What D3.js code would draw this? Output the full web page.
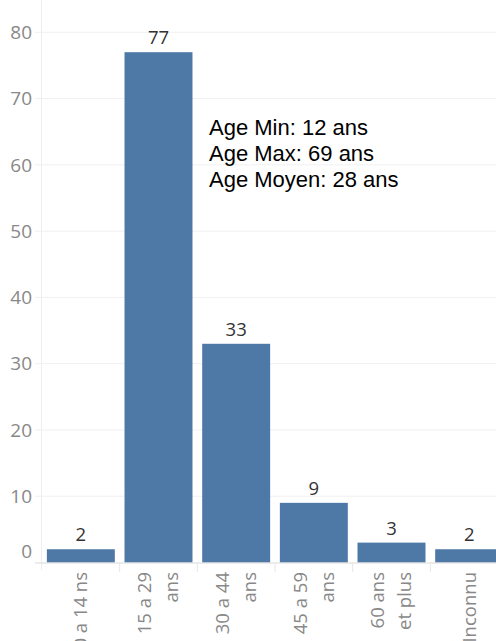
<!DOCTYPE html>
<html>
<head>
<meta charset="utf-8">
<script src="https://cdn.jsdelivr.net/npm/d3@7"></script>
<style>
  body { margin: 0; background: #fff; }
  svg { display: block; }
</style>
</head>
<body>
<svg width="496" height="641"></svg>
<script>
// data
var categories = ["0 a 14 ans", "15 a 29 ans", "30 a 44 ans", "45 a 59 ans", "60 ans et plus", "Inconnu"];
var labelLines = [["0 a 14 ns"], ["15 a 29", "ans"], ["30 a 44", "ans"], ["45 a 59", "ans"], ["60 ans", "et plus"], ["Inconnu"]];
var counts = [2, 77, 33, 9, 3, 2];
var yTicks = [0, 10, 20, 30, 40, 50, 60, 70, 80];
var notes = ["Age Min: 12 ans", "Age Max: 69 ans", "Age Moyen: 28 ans"];

var svg = d3.select("svg"),
    left = 42, right = 508, base = 562.5, top80 = 32.3;

var x = d3.scaleBand().domain(categories).range([left, right])
    .paddingInner(0.125).paddingOuter(0.0625);
var y = d3.scaleLinear().domain([0, 80]).range([base, top80]);

var tickFont = "'Open Sans', Lato, sans-serif";

// gridlines
svg.append("g").selectAll("line")
    .data(yTicks.filter(function (d) { return d > 0; }))
    .enter().append("line")
    .attr("x1", 35).attr("x2", 496)
    .attr("y1", function (d) { return y(d); })
    .attr("y2", function (d) { return y(d); })
    .attr("stroke", "#f0f0f0").attr("stroke-width", 1);

// y axis line
svg.append("line")
    .attr("x1", left - 0.5).attr("x2", left - 0.5)
    .attr("y1", 0).attr("y2", 570)
    .attr("stroke", "#eeeeee");

// y tick labels (0 is nudged up like the original)
svg.append("g").selectAll("text")
    .data(yTicks)
    .enter().append("text")
    .attr("x", 32)
    .attr("y", function (d) { return d === 0 ? y(d) - 11 : y(d); })
    .attr("dy", "0.35em")
    .attr("text-anchor", "end")
    .attr("font-family", tickFont)
    .attr("font-size", 19)
    .attr("fill", "#888")
    .text(function (d) { return d; });

// bars
svg.append("g").selectAll("rect")
    .data(counts)
    .enter().append("rect")
    .attr("x", function (d, i) { return x(categories[i]); })
    .attr("y", function (d) { return y(d); })
    .attr("width", x.bandwidth())
    .attr("height", function (d) { return base - y(d); })
    .attr("fill", "#4e79a7");

// baseline
svg.append("line")
    .attr("x1", 35).attr("x2", 496)
    .attr("y1", base + 0.5).attr("y2", base + 0.5)
    .attr("stroke", "#d9d9d9");

// category separators
svg.append("g").selectAll("line")
    .data(categories.slice(1))
    .enter().append("line")
    .attr("x1", function (d) { return x(d) - x.step() * x.paddingInner() / 2; })
    .attr("x2", function (d) { return x(d) - x.step() * x.paddingInner() / 2; })
    .attr("y1", base).attr("y2", 572)
    .attr("stroke", "#e6e6e6");

// value labels
svg.append("g").selectAll("text")
    .data(counts)
    .enter().append("text")
    .attr("x", function (d, i) { return x(categories[i]) + x.bandwidth() / 2; })
    .attr("y", function (d) { return y(d) - 8; })
    .attr("text-anchor", "middle")
    .attr("font-family", tickFont)
    .attr("font-size", 18.5)
    .attr("fill", "#333")
    .text(function (d) { return d; });

// rotated category labels
var cat = svg.append("g").selectAll("g")
    .data(categories)
    .enter().append("g")
    .attr("transform", function (d) {
        return "translate(" + (x(d) + x.bandwidth() / 2) + ",572) rotate(-90)";
    });

cat.each(function (d, i) {
    var lines = labelLines[i], n = lines.length;
    d3.select(this).selectAll("text")
        .data(lines)
        .enter().append("text")
        .attr("x", 0)
        .attr("y", function (t, j) { return (j - (n - 1) / 2) * 27; })
        .attr("dy", "0.35em")
        .attr("text-anchor", "end")
        .attr("font-family", tickFont)
        .attr("font-size", 18.5)
        .attr("fill", "#888")
        .text(function (t) { return t; });
});

// annotation
svg.append("g").selectAll("text")
    .data(notes)
    .enter().append("text")
    .attr("x", 209)
    .attr("y", function (d, i) { return 135 + i * 26; })
    .attr("font-family", "'Liberation Sans', Arial, sans-serif")
    .attr("font-size", 22)
    .attr("fill", "#000")
    .text(function (d) { return d; });
</script>
</body>
</html>
